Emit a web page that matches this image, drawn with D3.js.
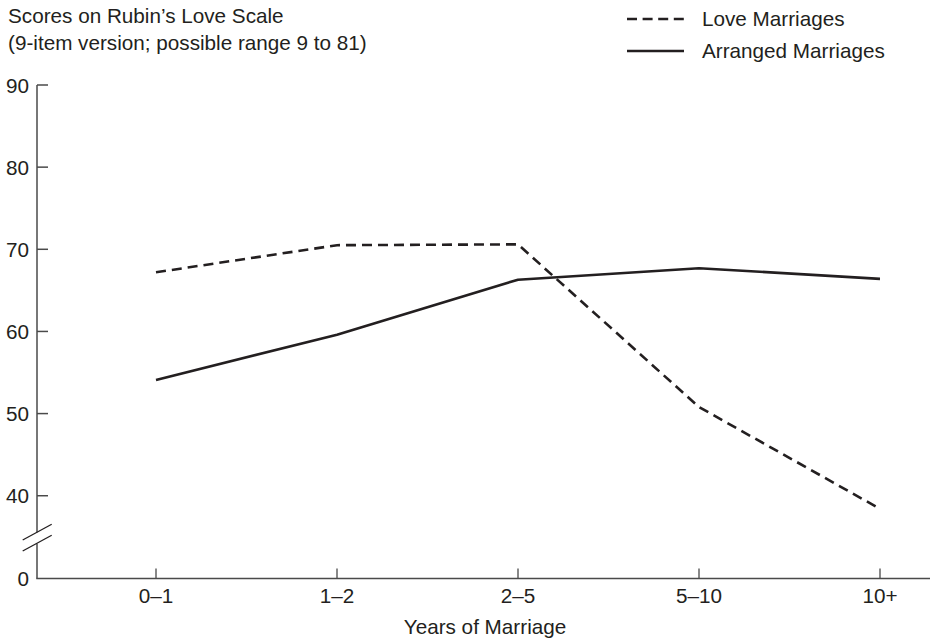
<!DOCTYPE html>
<html><head><meta charset="utf-8">
<script src="https://cdn.jsdelivr.net/npm/d3@7"></script>
<style>body{margin:0;background:#fff}svg{display:block}text{font-family:"Liberation Sans",Arial,sans-serif;fill:#231f20}</style>
</head><body><svg id="c" width="930" height="639"></svg>
<script>
const categories = ["0–1","1–2","2–5","5–10","10+"];
const loveMarriages = [67.2, 70.5, 70.6, 50.8, 38.4];
const arrangedMarriages = [54.1, 59.6, 66.3, 67.7, 66.4];
const yTicks = [0, 40, 50, 60, 70, 80, 90];
const seriesNames = ["Love Marriages", "Arranged Marriages"];

const svg = d3.select("#c");
const ink = "#231f20", axisCol = "#4a4a4a";
const fs = 20.7;
const x = d3.scalePoint().domain(categories).range([156, 880]);
// broken axis: 0 at the bottom, continuous linear scale from 35 up to 90
const y = d3.scaleLinear().domain([0, 35, 90]).range([578.5, 536.8, 85]);
const axisX = 37;

// y axis with break
const g = svg.append("g");
g.append("line").attr("x1",axisX).attr("x2",axisX).attr("y1",y(90)).attr("y2",532.4).attr("stroke",axisCol).attr("stroke-width",1.5);
g.append("line").attr("x1",axisX).attr("x2",axisX).attr("y1",543.4).attr("y2",y(0)).attr("stroke",axisCol).attr("stroke-width",1.5);
[[22.7,540,51.7,524.3],[22.7,551,51.7,535.3]].forEach(d=>{
  g.append("line").attr("x1",d[0]).attr("y1",d[1]).attr("x2",d[2]).attr("y2",d[3]).attr("stroke",ink).attr("stroke-width",1.3);
});
yTicks.forEach(t=>{
  if (t>0) g.append("line").attr("x1",axisX).attr("x2",axisX+11).attr("y1",y(t)).attr("y2",y(t)).attr("stroke",axisCol).attr("stroke-width",1.5);
  g.append("text").attr("x",29).attr("y",y(t)+7.5).attr("text-anchor","end").attr("font-size",fs).text(t);
});

// x axis
svg.append("line").attr("x1",axisX-0.75).attr("x2",930).attr("y1",y(0)).attr("y2",y(0)).attr("stroke",axisCol).attr("stroke-width",1.5);
categories.forEach(c=>{
  svg.append("line").attr("x1",x(c)).attr("x2",x(c)).attr("y1",y(0)).attr("y2",y(0)-10).attr("stroke",axisCol).attr("stroke-width",1.3);
  svg.append("text").attr("x",x(c)).attr("y",603).attr("text-anchor","middle").attr("font-size",fs).text(c);
});
svg.append("text").attr("x",485).attr("y",634).attr("text-anchor","middle").attr("font-size",fs).text("Years of Marriage");

// titles
svg.append("text").attr("x",8).attr("y",23).attr("font-size",fs).text("Scores on Rubin’s Love Scale");
svg.append("text").attr("x",8).attr("y",50).attr("font-size",fs).text("(9-item version; possible range 9 to 81)");

// lines
const line = d3.line().x((d,i)=>x(categories[i])).y(d=>y(d));
svg.append("path").datum(arrangedMarriages).attr("d",line).attr("fill","none").attr("stroke",ink).attr("stroke-width",2.6).attr("stroke-linejoin","round");
svg.append("path").datum(loveMarriages).attr("d",line).attr("fill","none").attr("stroke",ink).attr("stroke-width",2.6).attr("stroke-dasharray","10,6");

// legend
const leg = svg.append("g");
seriesNames.forEach((n,i)=>{
  const yy = 19 + i*32;
  leg.append("line").attr("x1",627).attr("x2",684).attr("y1",yy).attr("y2",yy).attr("stroke",ink).attr("stroke-width",2.6)
     .attr("stroke-dasharray", i===0 ? "10,5.6" : null);
  leg.append("text").attr("x",702).attr("y",yy+6.5).attr("font-size",fs).text(n);
});
</script></body></html>
